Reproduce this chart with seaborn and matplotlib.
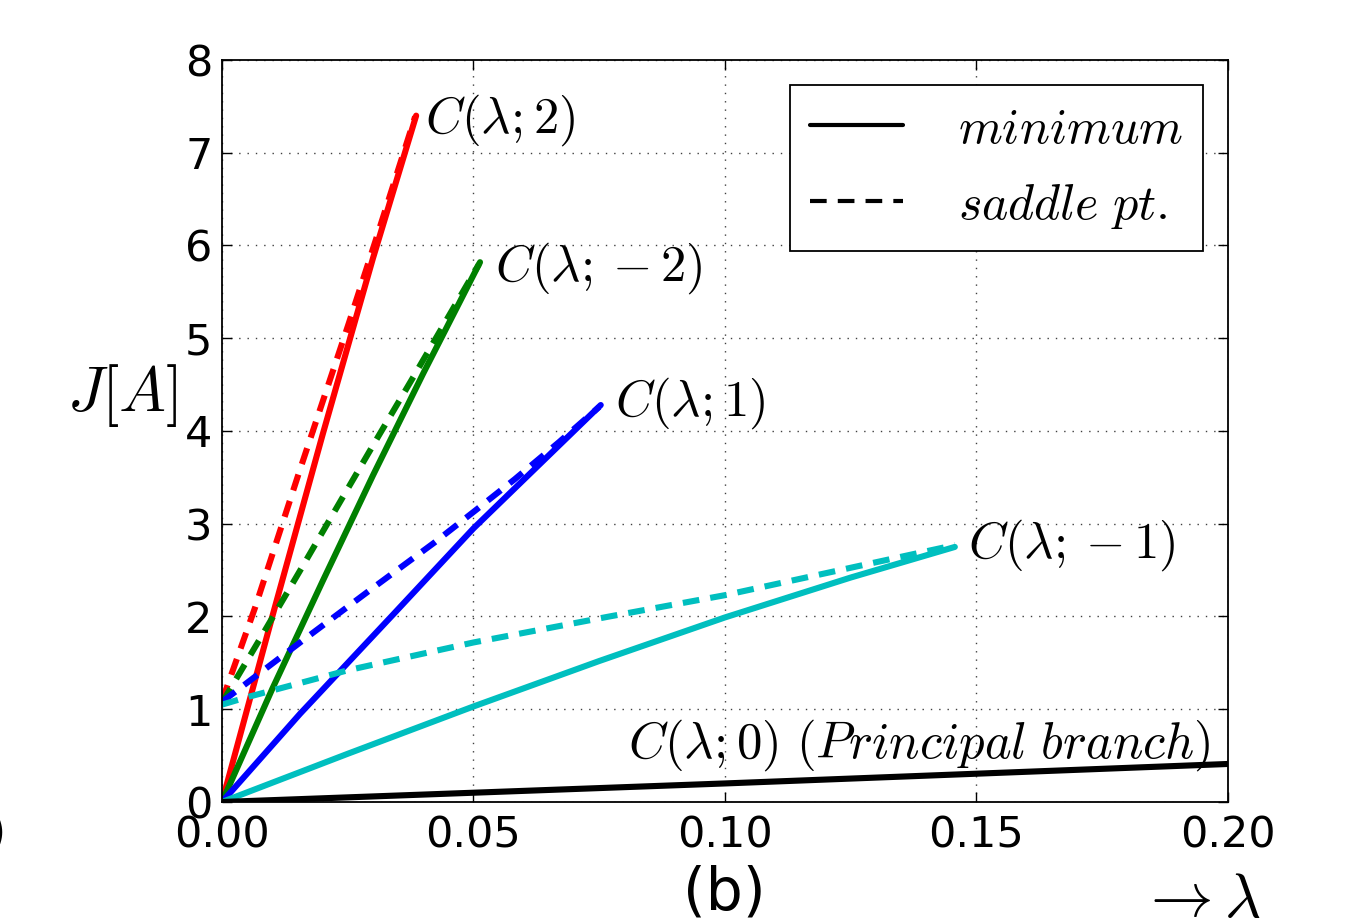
import numpy as np
import pandas as pd
import seaborn as sns
import matplotlib.pyplot as plt
from matplotlib.lines import Line2D

# minimum branches (solid)
lam_min_p2 = [0, 0.01, 0.02, 0.03, 0.0386]
J_min_p2 = [0, 2.0, 3.96, 5.86, 7.40]
lam_min_m2 = [0, 0.01, 0.02, 0.03, 0.04, 0.0513]
J_min_m2 = [0, 1.22, 2.38, 3.52, 4.62, 5.82]
lam_min_p1 = [0, 0.0155, 0.034, 0.05, 0.0753]
J_min_p1 = [0, 0.95, 2.02, 2.95, 4.28]
lam_min_m1 = [0, 0.025, 0.05, 0.075, 0.1, 0.125, 0.1457]
J_min_m1 = [0, 0.52, 1.03, 1.52, 1.99, 2.42, 2.75]
lam_min_0 = [0, 0.1, 0.2]
J_min_0 = [0, 0.2, 0.41]

# saddle point branches (dashed)
lam_sad_p2 = [0, 0.0066, 0.0153, 0.0252, 0.0304, 0.0384]
J_sad_p2 = [1.09, 2.10, 3.55, 5.16, 6.03, 7.39]
lam_sad_m2 = [0, 0.008, 0.0159, 0.0233, 0.0304, 0.0378, 0.0511]
J_sad_m2 = [1.07, 1.80, 2.53, 3.22, 3.88, 4.56, 5.80]
lam_sad_p1 = [0, 0.0165, 0.0298, 0.0423, 0.0503, 0.0582, 0.067, 0.075]
J_sad_p1 = [1.08, 1.76, 2.30, 2.80, 3.14, 3.48, 3.88, 4.26]
lam_sad_m1 = [0, 0.005, 0.025, 0.05, 0.077, 0.10, 0.1457]
J_sad_m1 = [1.05, 1.13, 1.42, 1.72, 2.0, 2.23, 2.77]

branch_labels = [r"$C(\lambda;2)$", r"$C(\lambda;-2)$", r"$C(\lambda;1)$",
                 r"$C(\lambda;-1)$", r"$C(\lambda;0)\ (Principal\ branch)$"]
label_x = [0.0404, 0.0543, 0.0781, 0.1483, 0.0807]
label_y = [7.35, 5.76, 4.30, 2.77, 0.61]

sns.set_style("ticks")
plt.rcParams["mathtext.fontset"] = "cm"
plt.rcParams["font.family"] = ["DejaVu Sans"]
plt.rcParams["lines.scale_dashes"] = False
for k in ["text.color", "xtick.color", "ytick.color", "axes.labelcolor"]:
    plt.rcParams[k] = "black"

fig = plt.figure(figsize=(13.57, 9.23), dpi=100)
ax = fig.add_axes([0.1636, 0.1311, 0.7413, 0.8039])

dash = (0, (12, 8))
lw = 4.4
series = [
    (lam_min_p2, J_min_p2, "#ff0000", "-"),
    (lam_sad_p2, J_sad_p2, "#ff0000", dash),
    (lam_min_m2, J_min_m2, "#008000", "-"),
    (lam_sad_m2, J_sad_m2, "#008000", dash),
    (lam_min_p1, J_min_p1, "#0000ff", "-"),
    (lam_sad_p1, J_sad_p1, "#0000ff", dash),
    (lam_min_m1, J_min_m1, "#00bfbf", "-"),
    (lam_sad_m1, J_sad_m1, "#00bfbf", dash),
    (lam_min_0, J_min_0, "black", "-"),
]
for xs, ys, c, ls in series:
    df = pd.DataFrame({"lam": xs, "J": ys})
    sns.lineplot(data=df, x="lam", y="J", color=c, linestyle=ls, lw=lw,
                 sort=False, estimator=None, ax=ax)

for t, x, y in zip(branch_labels, label_x, label_y):
    ax.text(x, y, t, fontsize=36.5, ha="left", va="center")

ax.set_xlim(0, 0.2)
ax.set_ylim(0, 8)
ax.set_xticks([0, 0.05, 0.1, 0.15, 0.2])
ax.set_xticklabels(["0.00", "0.05", "0.10", "0.15", "0.20"])
ax.set_yticks(range(9))
ax.tick_params(direction="in", top=True, right=True, length=7, width=1,
               labelsize=31)
ax.tick_params(axis="x", pad=9)
ax.tick_params(axis="y", pad=7)
ax.grid(True, color="0.25", linestyle=(0, (1, 5)), lw=1)
for s in ax.spines.values():
    s.set_linewidth(1.3)
    s.set_color("black")

ax.set_xlabel("")
ax.set_ylabel(r"$J[A]$", fontsize=45, rotation=0, ha="center", va="center")
ax.yaxis.set_label_coords(-0.099, 0.548)

handles = [Line2D([], [], color="black", lw=3, ls="-"),
           Line2D([], [], color="black", lw=3, ls=dash)]
leg = ax.legend(handles, [r"$minimum$", r"$saddle\ pt.$"], loc="upper right",
                fontsize=36, frameon=True, fancybox=False, framealpha=1,
                edgecolor="black", handlelength=1.85, handletextpad=1.1,
                borderpad=0.4, labelspacing=0.56, borderaxespad=0.5)
leg.get_frame().set_linewidth(1.3)

fig.text(724 / 1357, 1 - 893 / 923, "(b)", fontsize=42, ha="center", va="center")
fig.text(1200 / 1357, 1 - 900 / 923, r"$\rightarrow\lambda$", fontsize=45,
         ha="center", va="center")
fig.text(6 / 1357, 1 - 833 / 923, ")", fontsize=36, ha="right", va="center")

fig.savefig("out.png", dpi=100)
